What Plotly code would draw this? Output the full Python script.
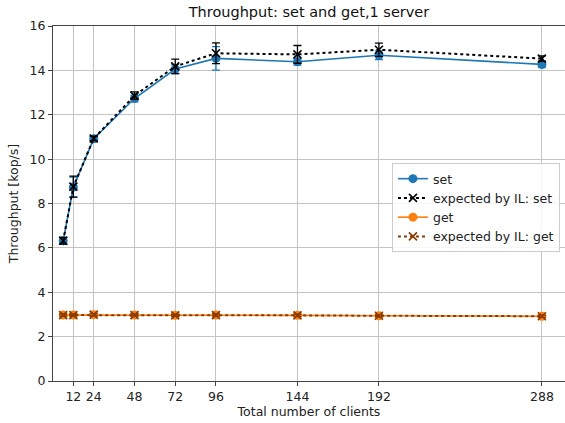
import plotly.graph_objects as go

# Throughput of set/get operations against a single server
clients = [6, 12, 24, 48, 72, 96, 144, 192, 288]
tick_vals = [12, 24, 48, 72, 96, 144, 192, 288]

set_tp = [6.32, 8.74, 10.92, 12.73, 14.06, 14.54, 14.39, 14.68, 14.27]
set_err = [0.15, 0.45, 0.10, 0.15, 0.20, 0.53, 0.15, 0.20, 0.15]

il_set_tp = [6.32, 8.76, 10.93, 12.86, 14.18, 14.77, 14.72, 14.93, 14.53]
il_set_err = [0.15, 0.47, 0.10, 0.17, 0.33, 0.47, 0.40, 0.30, 0.12]

get_tp = [2.97, 2.97, 2.99, 2.97, 2.96, 2.97, 2.96, 2.94, 2.92]
get_err = [0.06, 0.06, 0.06, 0.06, 0.06, 0.06, 0.06, 0.06, 0.06]

il_get_tp = [2.97, 2.97, 2.99, 2.97, 2.96, 2.97, 2.96, 2.94, 2.92]
il_get_err = [0.05, 0.05, 0.05, 0.05, 0.05, 0.05, 0.05, 0.05, 0.05]

BLUE = "#1f77b4"
ORANGE = "#ff7f0e"
BROWN = "#8a3b00"
FONT = "DejaVu Sans"

fig = go.Figure()

fig.add_trace(go.Scatter(
    x=clients, y=set_tp, name="set", mode="lines+markers",
    line=dict(color=BLUE, width=1.6),
    marker=dict(symbol="circle", size=9, color=BLUE),
    error_y=dict(type="data", array=set_err, color=BLUE, thickness=1.3, width=4),
))
fig.add_trace(go.Scatter(
    x=clients, y=il_set_tp, name="expected by IL: set", mode="lines+markers",
    line=dict(color="black", width=2, dash="dot"),
    marker=dict(symbol="x-thin", size=8, line=dict(color="black", width=1.6), color="black"),
    error_y=dict(type="data", array=il_set_err, color="black", thickness=1.3, width=4),
))
fig.add_trace(go.Scatter(
    x=clients, y=get_tp, name="get", mode="lines+markers",
    line=dict(color=ORANGE, width=1.6),
    marker=dict(symbol="circle", size=9, color=ORANGE),
    error_y=dict(type="data", array=get_err, color=ORANGE, thickness=1.3, width=4),
))
fig.add_trace(go.Scatter(
    x=clients, y=il_get_tp, name="expected by IL: get", mode="lines+markers",
    line=dict(color=BROWN, width=2, dash="dot"),
    marker=dict(symbol="x-thin", size=8, line=dict(color=BROWN, width=1.6), color=BROWN),
    error_y=dict(type="data", array=il_get_err, color=BROWN, thickness=1.3, width=4),
))

fig.update_layout(
    width=565, height=423,
    margin=dict(l=53, r=0, t=26, b=42),
    paper_bgcolor="white", plot_bgcolor="white",
    font=dict(family=FONT, size=12, color="#222222"),
    title=dict(text="Throughput: set and get,1 server", x=0.5, xref="paper",
               xanchor="center", y=0.972, yanchor="middle",
               font=dict(family=FONT, size=14.5, color="#111111")),
    showlegend=True,
    legend=dict(x=0.662, y=0.614, xanchor="left", yanchor="top",
                bgcolor="rgba(255,255,255,0.85)", bordercolor="#cccccc", borderwidth=1,
                font=dict(family=FONT, size=12.5, color="#222222"),
                tracegroupgap=0, itemwidth=30),
)

fig.update_xaxes(
    range=[0, 301.6], tickmode="array", tickvals=tick_vals,
    ticktext=[str(v) for v in tick_vals],
    showgrid=True, gridcolor="#c4c4c4", gridwidth=1,
    showline=True, linecolor="#444444", linewidth=1.3, mirror=True,
    ticks="outside", ticklen=4, tickcolor="#444444",
    tickfont=dict(family=FONT, size=12.5, color="#222222"),
    title=dict(text="Total number of clients", standoff=4,
               font=dict(family=FONT, size=12.5, color="#222222")),
    zeroline=False,
)
fig.update_yaxes(
    range=[0, 16], tickmode="array", tickvals=list(range(0, 17, 2)),
    showgrid=True, gridcolor="#c4c4c4", gridwidth=1,
    showline=True, linecolor="#444444", linewidth=1.3,
    ticks="outside", ticklen=4, tickcolor="#444444",
    tickfont=dict(family=FONT, size=12.5, color="#222222"),
    title=dict(text="Throughput [kop/s]", standoff=8,
               font=dict(family=FONT, size=12.5, color="#222222")),
    zeroline=False,
)

fig.write_html("out.html")
